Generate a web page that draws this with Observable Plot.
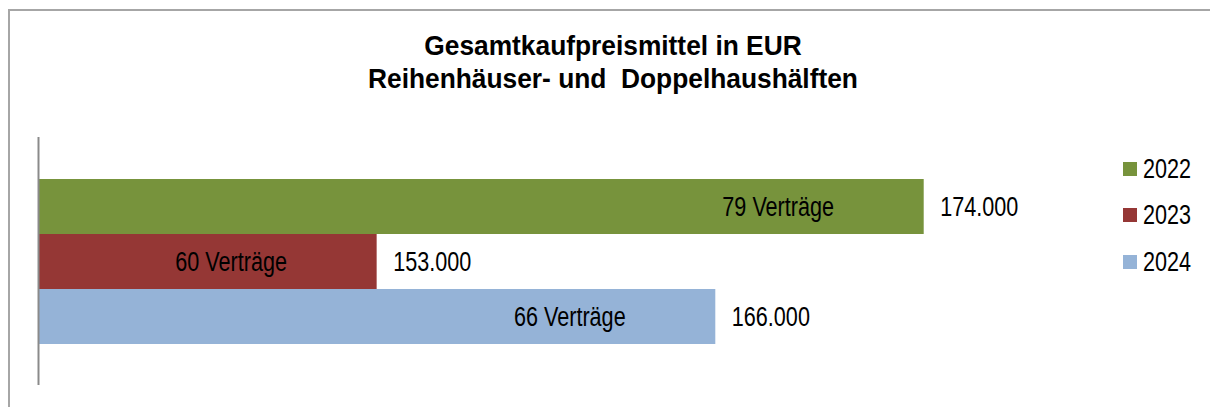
<!DOCTYPE html>
<html>
<head>
<meta charset="utf-8">
<script src="https://cdn.jsdelivr.net/npm/d3@7"></script>
<script src="https://cdn.jsdelivr.net/npm/@observablehq/plot@0.6"></script>
<style>
  html, body { margin: 0; padding: 0; background: #fff; }
  #wrap { position: relative; width: 1210px; height: 407px; overflow: hidden; background: #fff; }
  #frame { position: absolute; left: 8px; top: 9px; width: 1400px; height: 600px; border: 2px solid #a6a6a6; box-sizing: border-box; }
  #title { position: absolute; left: 0; top: 29px; width: 1226px; text-align: center;
           font-family: "Liberation Sans", Arial, sans-serif; font-weight: bold; font-size: 28px;
           line-height: 33px; white-space: pre; color: #000;
           transform: scaleX(0.94); transform-origin: 613px 0; }
  #chart { position: absolute; left: 0; top: 120px; }
  #legend { position: absolute; left: 1123px; top: 0; }
  .item { position: absolute; left: 0; width: 90px; height: 30px; }
  .sw { position: absolute; left: 0; top: 8px; width: 14px; height: 14px; }
  .lab { position: absolute; left: 20px; top: 0; font-family: "Liberation Sans", Arial, sans-serif;
         font-size: 27px; line-height: 30px; color: #000;
         transform: scaleX(0.8); transform-origin: 0 0; }
</style>
</head>
<body>
<div id="wrap">
  <div id="frame"></div>
  <div id="title"></div>
  <div id="chart"></div>
  <div id="legend"></div>
</div>
<script>
// Average total purchase price (EUR) for terraced and semi-detached houses
const years = ["2022", "2023", "2024"];
const prices = [174000, 153000, 166000];
const contracts = [79, 60, 66];
const colors = ["#77933C", "#953735", "#95B3D7"];
const titleLines = ["Gesamtkaufpreismittel in EUR", "Reihenhäuser- und  Doppelhaushälften"];
const xDomain = [140000, 180000];

const rows = years.map((year, i) => ({year, price: prices[i], contracts: contracts[i]}));

const de = d3.formatLocale({decimal: ",", thousands: ".", grouping: [3], currency: ["", " €"]});
const fmt = de.format(",");

document.getElementById("title").textContent = titleLines.join("\n");

const font = "'Liberation Sans', Arial, sans-serif";

const chart = Plot.plot({
  width: 1210,
  height: 287,
  marginLeft: 38,
  marginRight: 130,
  marginTop: 17,
  marginBottom: 22,
  style: {background: "transparent", fontFamily: font},
  x: {domain: xDomain, axis: null},
  y: {domain: years, axis: null, paddingInner: 0, paddingOuter: 0.74},
  color: {domain: years, range: colors},
  marks: [
    Plot.barX(rows, {x1: () => xDomain[0], x2: "price", y: "year", fill: "year"}),
    Plot.ruleX([xDomain[0]], {stroke: "#8a8a8a", strokeWidth: 2}),
    Plot.text(rows, {x: "price", y: "year", text: d => `${d.contracts} Verträge`,
      textAnchor: "middle", dx: -146, fontSize: 27, fill: "#000"}),
    Plot.text(rows, {x: "price", y: "year", text: d => fmt(d.price),
      textAnchor: "start", dx: 16, fontSize: 27, fill: "#000"})
  ]
});
document.getElementById("chart").appendChild(chart);

// Condensed lettering for the labels inside the plot
chart.querySelectorAll("text").forEach(t => {
  const w = t.getComputedTextLength();
  t.setAttribute("textLength", (w * 0.8).toFixed(1));
  t.setAttribute("lengthAdjust", "spacingAndGlyphs");
});

// Legend on the right
const legend = document.getElementById("legend");
const legendTops = [154, 200, 247];
years.forEach((year, i) => {
  const item = document.createElement("div");
  item.className = "item";
  item.style.top = legendTops[i] + "px";
  const sw = document.createElement("div");
  sw.className = "sw";
  sw.style.background = colors[i];
  const lab = document.createElement("div");
  lab.className = "lab";
  lab.textContent = year;
  item.appendChild(sw);
  item.appendChild(lab);
  legend.appendChild(item);
});
</script>
</body>
</html>
